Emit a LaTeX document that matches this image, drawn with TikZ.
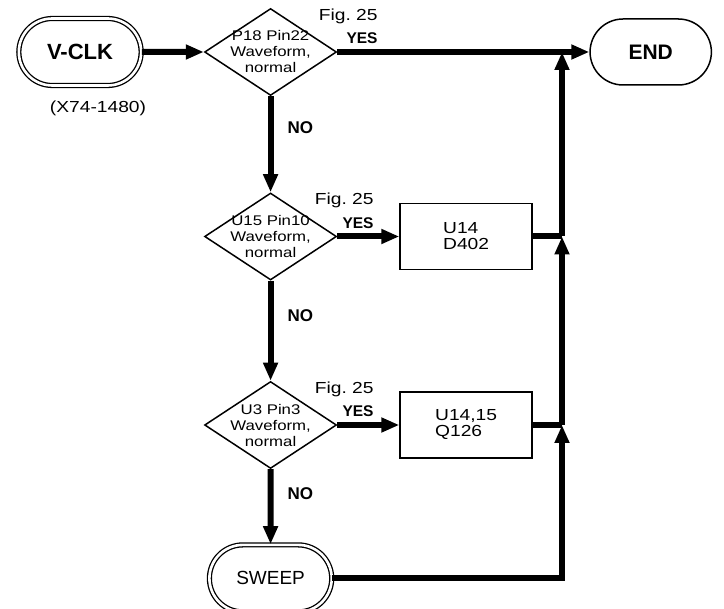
\documentclass[tikz,border=0pt]{standalone}
\usepackage{fontspec}
\setmainfont{Liberation Sans}
\newfontfamily\widefont{Liberation Sans}[FakeStretch=1.2]
\usetikzlibrary{arrows.meta,positioning,shapes.geometric,shapes.misc}
\tikzset{
  block/.style={
    draw,
    line width=1.6pt,
    align=left,
    minimum width=132pt,
    minimum height=66pt,
    font=\widefont\fontsize{16}{16}\selectfont
  },
  decision/.style={
    draw,
    diamond,
    aspect=1.52,
    line width=1.5pt,
    align=center,
    inner xsep=-8pt,
    inner ysep=-6pt,
    minimum width=132pt,
    minimum height=87pt,
    font=\widefont\fontsize{14}{16}\selectfont
  },
  terminator/.style={
    draw,
    rounded rectangle,
    line width=1.5pt,
    minimum width=128pt,
    minimum height=66pt,
    font=\bfseries\fontsize{21}{24}\selectfont
  },
  dterminator/.style={
    draw,
    rounded rectangle,
    double,
    double distance=2.6pt,
    line width=1.3pt,
    minimum width=129pt,
    minimum height=67pt
  },
  line/.style={
    -{Triangle[length=18pt,width=14pt]},
    line width=6pt
  },
  wire/.style={line width=6pt},
  yeslbl/.style={inner sep=0pt, font=\bfseries\fontsize{15.5}{16}\selectfont},
  nolbl/.style={inner sep=0pt, font=\bfseries\fontsize{17}{18}\selectfont},
  figlbl/.style={inner sep=0pt, font=\widefont\fontsize{16}{16}\selectfont}
}
\begin{document}
\begin{tikzpicture}[x=1pt, y=1pt, node distance=62pt]
  \useasboundingbox (0,-609) rectangle (724,0);

  \node[dterminator, font=\bfseries\fontsize{22}{24}\selectfont] (vclk) at (80,-52) {V-CLK};
  \node[below=11pt of vclk, xshift=18pt, font=\widefont\fontsize{16}{16}\selectfont] (part) {(X74-1480)};
  \node[decision, right=62pt of vclk] (p18) {P18 Pin22\\Waveform,\\normal};
  \node[decision, below=96pt of p18] (u15) {U15 Pin10\\Waveform,\\normal};
  \node[decision, below=100pt of u15] (u3) {U3 Pin3\\Waveform,\\normal};
  \node[dterminator, below=75pt of u3, font=\fontsize{19}{20}\selectfont] (sweep) {SWEEP};
  \node[block, right=of u15] (fix1) {U14\\D402};
  \node[block, right=of u3] (fix2) {U14,15\\Q126};
  \node[terminator, right=252pt of p18] (end) {END};

  % YES branches
  \node[yeslbl, above right=8pt and 9pt of p18.east] (yes1) {YES};
  \node[figlbl, above left=9pt and 0pt of yes1.north east] (fig1) {Fig.~25};
  \node[yeslbl, above right=8pt and 5pt of u15.east] (yes2) {YES};
  \node[figlbl, above left=9pt and 0pt of yes2.north east] (fig2) {Fig.~25};
  \node[yeslbl, above right=8pt and 5pt of u3.east] (yes3) {YES};
  \node[figlbl, above left=9pt and 0pt of yes3.north east] (fig3) {Fig.~25};

  % return bus
  \coordinate (j0) at (562,-52);
  \coordinate (j1) at (j0 |- fix1);
  \coordinate (j2) at (j0 |- fix2);

  \draw[line] (vclk) -- (p18);
  \draw[line] (p18.east) -- (end.west);
  \draw[line] (p18) -- node[nolbl, right=14pt, pos=0.33] {NO} (u15);
  \draw[line] (u15) -- node[nolbl, right=14pt, pos=0.35] {NO} (u3);
  \draw[line] (u3) -- node[nolbl, right=14pt, pos=0.33] {NO} (sweep);
  \draw[line] (u15) -- (fix1);
  \draw[line] (u3) -- (fix2);
  \draw[wire] (fix1.east) -- (j1);
  \draw[wire] (fix2.east) -- (j2);
  \draw[line] (sweep.east) -| (j2);
  \draw[line] (j2) -- (j1);
  \draw[line] (j1) -- (j0);
\end{tikzpicture}
\end{document}
